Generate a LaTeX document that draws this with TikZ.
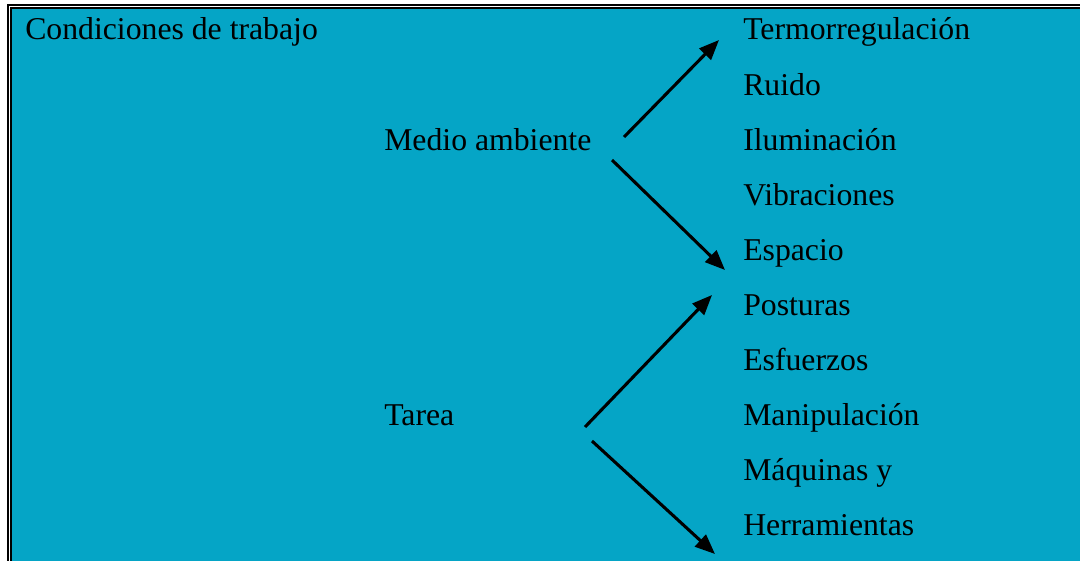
\documentclass[tikz,border=0pt]{standalone}
\usepackage{fontspec}
\setmainfont{Liberation Serif}
\usetikzlibrary{arrows.meta}
\definecolor{teal}{RGB}{5,165,198}
\begin{document}
\begin{tikzpicture}[x=0.75pt,y=-0.75pt,
  lbl/.style={anchor=base west,inner sep=0pt,font=\fontsize{23.8}{28}\selectfont},
  arr/.style={line width=2.3pt,-{Triangle[length=15pt,width=12pt]}}]
\useasboundingbox (0,0) rectangle (1080,560);
\clip (0,0) rectangle (1080,560);
\fill[white] (0,0) rectangle (1080,560);
\draw[line width=1.7pt] (8,5) rectangle (1100,580);
\draw[line width=1.7pt,fill=teal] (11,8) rectangle (1100,580);
\node[lbl] (cond) at (25,40) {Condiciones de trabajo};
\node[lbl] (medio) at (384,150) {Medio ambiente};
\node[lbl] (tarea) at (384,425) {Tarea};
\node[lbl] (t1) at (743,40) {Termorregulación};
\node[lbl] (t2) at (743,95) {Ruido};
\node[lbl] (t3) at (743,150) {Iluminación};
\node[lbl] (t4) at (743,205) {Vibraciones};
\node[lbl] (t5) at (743,260) {Espacio};
\node[lbl] (t6) at (743,315) {Posturas};
\node[lbl] (t7) at (743,370) {Esfuerzos};
\node[lbl] (t8) at (743,425) {Manipulación};
\node[lbl] (t9) at (743,480) {Máquinas y};
\node[lbl] (t10) at (743,535) {Herramientas};
\coordinate (m1s) at (624,137);
\coordinate (m1e) at (719,40);
\coordinate (m2s) at (612,160);
\coordinate (m2e) at (725,270);
\coordinate (a1s) at (585,427);
\coordinate (a1e) at (712,295);
\coordinate (a2s) at (592,441);
\coordinate (a2e) at (715,554);
\draw[arr] (m1s) -- (m1e);
\draw[arr] (m2s) -- (m2e);
\draw[arr] (a1s) -- (a1e);
\draw[arr] (a2s) -- (a2e);
\end{tikzpicture}
\end{document}
